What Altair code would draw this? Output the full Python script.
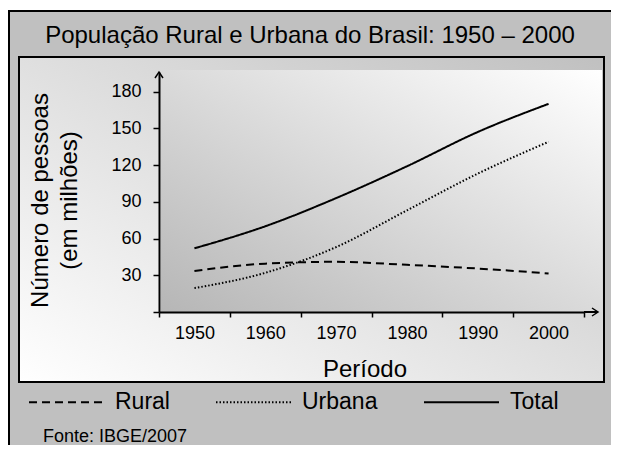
import altair as alt
import pandas as pd

# ---- data ----
anos = [1950, 1960, 1970, 1980, 1990, 2000]
rural = [33.5, 39.5, 41.0, 38.5, 35.5, 31.5]
urbana = [19.5, 32.0, 53.0, 83.0, 113.0, 139.0]
total = [52.0, 70.0, 93.0, 119.0, 147.0, 170.0]
series = ["Rural", "Urbana", "Total"]
y_ticks = [0, 30, 60, 90, 120, 150, 180]

titulo = "População Rural e Urbana do Brasil: 1950 – 2000"
titulo_y = ["Número de pessoas", "(em milhões)"]
titulo_x = "Período"
fonte = "Fonte: IBGE/2007"

FONT = "Liberation Sans"

rows = []
for nome, vals in zip(series, [rural, urbana, total]):
    for a, v in zip(anos, vals):
        rows.append({"ano": a, "valor": v, "serie": nome})
df = pd.DataFrame(rows)
one = pd.DataFrame({"k": [0]})

W, H = 425, 240
PAD = {"left": 151, "top": 64, "right": 27, "bottom": 133}

outer = alt.Chart(one).mark_rect(fill="#c0c0c0").encode(
    x=alt.value(-151), x2=alt.value(452), y=alt.value(-61), y2=alt.value(373)
)
outer_left = alt.Chart(one).mark_rule(stroke="black", strokeWidth=2).encode(
    x=alt.value(-150), y=alt.value(-61), y2=alt.value(373)
)
outer_top = alt.Chart(one).mark_rule(stroke="black", strokeWidth=2).encode(
    x=alt.value(-151), x2=alt.value(452), y=alt.value(-61)
)

panel_grad = alt.LinearGradient(
    gradient="linear",
    stops=[alt.GradientStop(color="#ffffff", offset=0), alt.GradientStop(color="#c0c0c0", offset=1)],
    x1=0, y1=1, x2=1, y2=0,
)
panel = alt.Chart(one).mark_rect(fill=panel_grad, stroke="black", strokeWidth=2).encode(
    x=alt.value(-140), x2=alt.value(445), y=alt.value(-15), y2=alt.value(310)
)

plot_grad = alt.LinearGradient(
    gradient="linear",
    stops=[alt.GradientStop(color="#b6b6b6", offset=0), alt.GradientStop(color="#ffffff", offset=1)],
    x1=0, y1=1, x2=1, y2=0,
)
plotbg = alt.Chart(one).mark_rect(fill=plot_grad).encode(
    x=alt.value(2), x2=alt.value(443), y=alt.value(-2), y2=alt.value(240)
)

lines = alt.Chart(df).mark_line(interpolate="monotone", strokeWidth=2, color="black").encode(
    x=alt.X(
        "ano:O",
        scale=alt.Scale(type="band", paddingInner=0, paddingOuter=0),
        bandPosition=0.5,
        axis=alt.Axis(
            title=titulo_x, titleFontSize=24, titleFontWeight="normal", titleColor="black",
            titleX=205.5, titleY=64, titleAlign="center", titleBaseline="alphabetic",
            labelAngle=0, labelFontSize=18, labelColor="black", labelPadding=7,
            tickBand="extent", tickSize=5, tickWidth=1.5, tickColor="black",
            domainColor="black", domainWidth=2, grid=False, zindex=1,
        ),
    ),
    y=alt.Y(
        "valor:Q",
        scale=alt.Scale(domain=[0, 196], nice=False),
        axis=alt.Axis(
            values=y_ticks, labelExpr="datum.value == 0 ? '' : datum.label",
            title=titulo_y, titleAngle=270, titleX=-112, titleY=128, titleAlign="center",
            titleBaseline="alphabetic", titleLineHeight=29, titleFontSize=24,
            titleFontWeight="normal", titleColor="black",
            labelFontSize=18, labelColor="black", labelPadding=12,
            tickSize=6, tickWidth=1.5, tickColor="black",
            domainColor="black", domainWidth=2, grid=False, zindex=1,
        ),
    ),
    strokeDash=alt.StrokeDash(
        "serie:N",
        scale=alt.Scale(domain=series, range=[[8, 5], [1.5, 2], [1, 0]]),
        legend=alt.Legend(
            title=None, orient="none", legendX=-131, legendY=291.5, direction="horizontal",
            symbolType="stroke", symbolSize=5625, symbolStrokeWidth=2, symbolStrokeColor="black",
            labelFontSize=23, labelColor="black", labelOffset=10, columnPadding=42, padding=0,
        ),
    ),
)

y_arrow = alt.Chart(one).mark_point(
    shape="M-1,1.5L0,0L1,1.5", size=64, filled=False, stroke="black", strokeWidth=1.5, opacity=1
).encode(x=alt.value(0), y=alt.value(0))

x_ext = alt.Chart(one).mark_rule(stroke="black", strokeWidth=2).encode(
    x=alt.value(425), x2=alt.value(439), y=alt.value(240)
)
x_arrow = alt.Chart(one).mark_point(
    shape="M-1.5,-1L0,0L-1.5,1", size=64, filled=False, stroke="black", strokeWidth=1.5, opacity=1
).encode(x=alt.value(439), y=alt.value(240))

t_title = alt.Chart(one).mark_text(
    fontSize=24, font=FONT, color="black", align="center", baseline="alphabetic"
).encode(x=alt.value(151), y=alt.value(-29), text=alt.value(titulo))

t_fonte = alt.Chart(one).mark_text(
    fontSize=18, font=FONT, color="black", align="left", baseline="alphabetic"
).encode(x=alt.value(-116), y=alt.value(370), text=alt.value(fonte))

chart = alt.layer(
    outer, outer_left, outer_top, panel, plotbg, lines, y_arrow, x_ext, x_arrow, t_title, t_fonte
).properties(
    width=W, height=H,
    padding=PAD,
    autosize=alt.AutoSizeParams(type="none"),
).configure(font=FONT, background="white").configure_view(stroke=None)

chart.save("out.html", embed_options={"renderer": "svg", "actions": False})
